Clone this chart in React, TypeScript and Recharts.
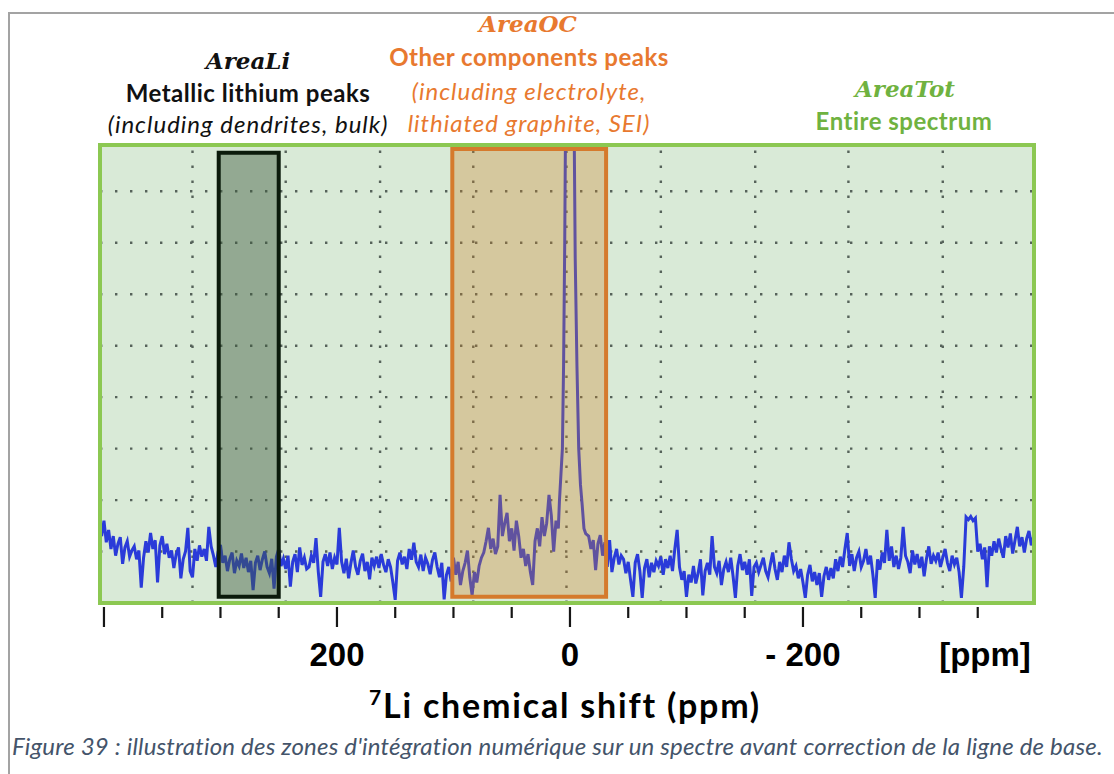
import React from 'react';
import { LineChart, Line, XAxis, YAxis, CartesianGrid, ReferenceArea, ReferenceLine } from 'recharts';

// ---- Data (7Li NMR spectrum, intensity in arbitrary grid units) ----
// Left part: uniformly sampled from 404 ppm down to 16 ppm, step 2 ppm
const leftStart = 404;
const sampleStep = 2;
const leftIntensity = [
  1.52, 1.30, 1.60, 1.18, 1.42, 1.05, 1.30, 0.92, 1.15, 1.28, 0.76, 1.08, 1.20, 0.90, 1.02,
  1.10, 0.85, 1.02, 0.30, 0.88, 1.20, 0.98, 1.36, 1.05, 1.22, 0.40, 1.12, 1.30, 0.95, 1.15,
  0.88, 1.02, 0.68, 0.95, 1.08, 0.48, 0.85, 1.00, 1.46, 0.62, 0.50, 1.05, 0.82, 1.12, 0.90,
  1.05, 0.82, 1.48, 1.10, 0.92, 0.70, 1.00, 1.13, 0.78, 0.92, 0.62, 0.85, 0.98, 0.58, 0.82,
  0.72, 0.96, 0.68, 0.88, 0.60, 0.82, 0.25, 0.78, 0.92, 0.64, 0.85, 1.00, 0.70, 0.58, 0.86,
  0.28, 0.90, 1.05, 0.72, 0.86, 0.66, 0.92, 0.32, 0.80, 0.95, 0.60, 1.08, 0.74, 0.88, 0.66,
  0.70, 0.92, 0.78, 1.26, 0.60, 0.12, 0.80, 0.95, 0.72, 0.98, 0.66, 0.88, 0.75, 1.46, 0.80,
  0.58, 0.86, 0.48, 0.78, 1.02, 0.70, 0.55, 0.82, 0.96, 0.62, 0.80, 0.46, 0.88, 0.72, 0.90,
  0.68, 0.95, 0.74, 0.60, 0.85, 0.70, 0.40, 0.06, 0.82, 0.98, 0.75, 0.90, 0.66, 1.05, 0.84,
  1.17, 0.80, 0.70, 0.94, 0.62, 0.88, 0.76, 0.56, 0.84, 0.98, 0.70, 0.50, 0.78, 0.07, 0.55,
  0.70, 0.42, 0.88, 0.55, 0.80, 0.35, 0.62, 0.78, 1.02, 0.50, 0.15, 0.60, 0.40, 0.72, 0.88,
  0.98, 1.20, 1.46, 1.05, 1.25, 0.95, 1.10, 2.10, 1.30, 1.55, 1.75, 1.20, 1.45, 1.02, 1.60,
  1.30, 0.88, 1.05, 0.72, 0.95, 0.60, 0.35, 1.20, 1.45, 1.10, 1.67, 1.30, 1.55, 2.10, 1.70,
];

// Main peak around 0 ppm (explicit points)
const peakShift = [14, 12, 10, 9, 7.5, 6.5, 5.5, 4.5, 3, 1, 0, -1, -2.5, -3.5, -4.5, -6, -7.5, -9, -10.5, -12, -13.5];
const peakIntensity = [1.0, 1.6, 1.45, 2.0, 2.6, 3.0, 4.6, 7.0, 12, 30, 40, 30, 14, 9.5, 6.7, 4.6, 3.0, 2.3, 1.9, 1.45, 1.35];

// Right part: uniformly sampled from -16 ppm down to -398 ppm, step 2 ppm
const rightStart = -16;
const rightIntensity = [
  1.30, 1.05, 1.22, 0.64, 1.15, 1.32, 0.92, 1.18, 0.70, 1.22, 0.60, 0.88, 1.05, 0.75, 0.92,
  0.85, 0.58, 0.80, 0.45, 0.12, 0.78, 0.95, 0.62, 0.10, 0.68, 0.85, 0.50, 0.78, 0.60, 0.82,
  0.72, 0.90, 0.55, 0.85, 0.68, 0.92, 0.62, 1.05, 1.42, 0.70, 0.45, 0.62, 0.12, 0.55, 0.40,
  0.72, 0.38, 0.58, 0.85, 0.15, 0.62, 0.78, 0.55, 1.30, 0.70, 0.58, 0.82, 0.35, 0.66, 0.80,
  0.60, 0.88, 0.52, 0.10, 0.72, 0.95, 0.64, 0.80, 0.55, 0.85, 0.14, 0.70, 0.78, 0.60, 0.74,
  0.88, 0.62, 0.50, 0.75, 0.98, 0.66, 0.45, 0.80, 0.60, 0.92, 0.70, 1.18, 0.86, 0.62, 0.72,
  0.48, 0.66, 0.40, 0.10, 0.55, 0.74, 0.42, 0.60, 0.35, 0.58, 0.12, 0.52, 0.70, 0.45, 0.68,
  0.48, 0.85, 0.62, 0.90, 0.70, 1.05, 1.36, 0.72, 0.95, 0.62, 0.88, 1.00, 0.70, 0.82, 1.05,
  0.75, 0.92, 0.55, 0.10, 0.85, 0.65, 0.98, 0.78, 1.42, 0.82, 1.10, 0.70, 0.92, 0.66, 0.88,
  1.48, 0.92, 0.80, 0.58, 1.02, 0.75, 0.95, 0.68, 0.90, 0.52, 0.86, 1.10, 0.76, 0.92, 0.82,
  0.98, 0.70, 0.88, 1.05, 0.78, 0.62, 0.92, 0.75, 0.88, 0.60, 0.10, 0.70, 1.67, 1.62, 1.68,
  1.60, 1.65, 1.00, 1.15, 0.85, 1.08, 0.31, 1.10, 0.92, 1.20, 0.98, 1.25, 1.05, 0.88, 1.30,
  1.08, 1.35, 0.96, 1.22, 1.48, 1.10, 1.28, 0.98, 1.25, 1.40, 1.12, 1.30,
];

// Axis ticks, labels and grid
const xDomainLeft = 403.4;
const xDomainRight = -398.3;
const shiftTicks = [400, 350, 300, 250, 200, 150, 100, 50, 0, -50, -100, -150, -200, -250, -300, -350];
const shiftTickLabels: Record<string, string> = { '200': '200', '0': '0', '-200': '- 200' };
const gridShift = [324, 244, 163, 83, 3, -78, -159, -239, -320];
const gridRows = [1, 2, 3, 4, 5, 6, 7, 8];
const yMax = 8.9;

// Integration zones (ppm)
const areaLi = { from: 301.5, to: 250 };
const areaOC = { from: 101, to: -31 };

// ---- build the table recharts needs ----
const spectrum: { ppm: number; v: number }[] = [];
leftIntensity.forEach((v, i) => spectrum.push({ ppm: leftStart - i * sampleStep, v }));
peakShift.forEach((p, i) => spectrum.push({ ppm: p, v: peakIntensity[i] }));
rightIntensity.forEach((v, i) => spectrum.push({ ppm: rightStart - i * sampleStep, v }));

const SANS = 'Lato, "Open Sans", sans-serif';
const MATH = '"DejaVu Serif", "Liberation Serif", serif';
const ARIAL = '"Liberation Sans", Arial, sans-serif';
const GRID_COLOR = '#56635a';

const ShiftTick = (props: any) => {
  const { x, y, payload } = props;
  const val = payload.value as number;
  const major = val % 200 === 0;
  const len = major ? 20 : 11;
  const label = shiftTickLabels[String(val)];
  return (
    <g>
      <line x1={x} x2={x} y1={y + 4} y2={y + 4 + len} stroke="#161616" strokeWidth={2.2} />
      {label ? (
        <text x={x} y={y + 63} textAnchor="middle" fontFamily={ARIAL} fontWeight="bold" fontSize={33} fill="#000">
          {label}
        </text>
      ) : null}
    </g>
  );
};

export default function App() {
  return (
    <div
      style={{
        position: 'absolute',
        left: 0,
        top: 0,
        width: 1114,
        height: 774,
        background: '#fff',
        overflow: 'hidden',
      }}
    >
      <div
        style={{
          position: 'absolute',
          left: 8,
          top: 12,
          width: 1200,
          height: 900,
          borderTop: '2px solid #a3a3a3',
          borderLeft: '2px solid #a3a3a3',
        }}
      />
      <div style={{ position: 'absolute', left: 0, top: 0 }}>
        <LineChart
          width={1114}
          height={774}
          data={spectrum}
          margin={{ top: 145, right: 80, bottom: 111, left: 100 }}
        >
          <CartesianGrid
            vertical={false}
            stroke={GRID_COLOR}
            strokeWidth={2.4}
            strokeDasharray="2.4 12.6"
            fill="#d9ead7"
            fillOpacity={1}
          />
          <XAxis
            dataKey="ppm"
            type="number"
            domain={[xDomainRight, xDomainLeft]}
            reversed
            allowDataOverflow
            ticks={shiftTicks}
            interval={0}
            tickLine={false}
            axisLine={false}
            tickSize={0}
            tickMargin={0}
            height={60}
            tick={<ShiftTick />}
          />
          <YAxis type="number" domain={[0, yMax]} ticks={gridRows} allowDataOverflow hide />
          {gridShift.map((g) => (
            <ReferenceLine key={g} x={g} stroke={GRID_COLOR} strokeWidth={2.4} strokeDasharray="2.4 12.6" />
          ))}
          <Line
            type="linear"
            dataKey="v"
            stroke="#2a3bd9"
            strokeWidth={3}
            dot={false}
            activeDot={false}
            isAnimationActive={false}
          />
          <ReferenceArea
            x1={areaLi.from}
            x2={areaLi.to}
            y1={0.12}
            y2={8.75}
            fill="#3e5b3e"
            fillOpacity={0.45}
            stroke="#0b1a0b"
            strokeWidth={4}
            zIndex={1500}
          />
          <ReferenceArea
            x1={areaOC.from}
            x2={areaOC.to}
            y1={0.12}
            y2={8.82}
            fill="#cd832c"
            fillOpacity={0.33}
            stroke="#d57a2c"
            strokeWidth={4}
            zIndex={1500}
          />
          <ReferenceArea
            x1={xDomainLeft}
            x2={xDomainRight}
            y1={0}
            y2={yMax}
            fill="none"
            stroke="#8cc852"
            strokeWidth={4}
            zIndex={1600}
          />
        </LineChart>
      </div>
      <svg
        width={1114}
        height={774}
        style={{ position: 'absolute', left: 0, top: 0, pointerEvents: 'none' }}
      >
        {/* AreaLi */}
        <text x={248} y={69} textAnchor="middle" fontFamily={MATH} fontStyle="italic" fontWeight="bold" fontSize={23} fill="#111">AreaLi</text>
        <text x={248} y={102} textAnchor="middle" fontFamily={SANS} fontWeight="bold" fontSize={24} letterSpacing={0.5} fill="#111">Metallic lithium peaks</text>
        <text x={248} y={133} textAnchor="middle" fontFamily={SANS} fontStyle="italic" fontSize={24} letterSpacing={1} fill="#111">(including dendrites, bulk)</text>
        {/* AreaOC */}
        <text x={528} y={32} textAnchor="middle" fontFamily={MATH} fontStyle="italic" fontWeight="bold" fontSize={23} fill="#e8792f">AreaOC</text>
        <text x={529} y={66} textAnchor="middle" fontFamily={SANS} fontWeight="bold" fontSize={24} letterSpacing={0.5} fill="#e8792f">Other components peaks</text>
        <text x={529} y={100} textAnchor="middle" fontFamily={SANS} fontStyle="italic" fontSize={24} letterSpacing={1} fill="#e8792f">(including electrolyte,</text>
        <text x={529} y={132} textAnchor="middle" fontFamily={SANS} fontStyle="italic" fontSize={24} letterSpacing={1} fill="#e8792f">lithiated graphite, SEI)</text>
        {/* AreaTot */}
        <text x={905} y={97} textAnchor="middle" fontFamily={MATH} fontStyle="italic" fontWeight="bold" fontSize={23} fill="#6fb240">AreaTot</text>
        <text x={904} y={130} textAnchor="middle" fontFamily={SANS} fontWeight="bold" fontSize={24} letterSpacing={0.5} fill="#6fb240">Entire spectrum</text>
        {/* unit */}
        <text x={985} y={666} textAnchor="middle" fontFamily={ARIAL} fontWeight="bold" fontSize={33} fill="#000">[ppm]</text>
        {/* axis title */}
        <text x={565} y={718} textAnchor="middle" fontFamily={SANS} fontWeight="bold" fontSize={34} letterSpacing={1.8} fill="#000">
          <tspan fontSize={21} dy={-13}>7</tspan>
          <tspan dy={13}>Li chemical shift (ppm)</tspan>
        </text>
        {/* caption */}
        <text x={12} y={755} fontFamily={SANS} fontStyle="italic" fontSize={24} letterSpacing={0.2} fill="#44546a">
          Figure 39 : illustration des zones d'intégration numérique sur un spectre avant correction de la ligne de base.
        </text>
      </svg>
    </div>
  );
}
